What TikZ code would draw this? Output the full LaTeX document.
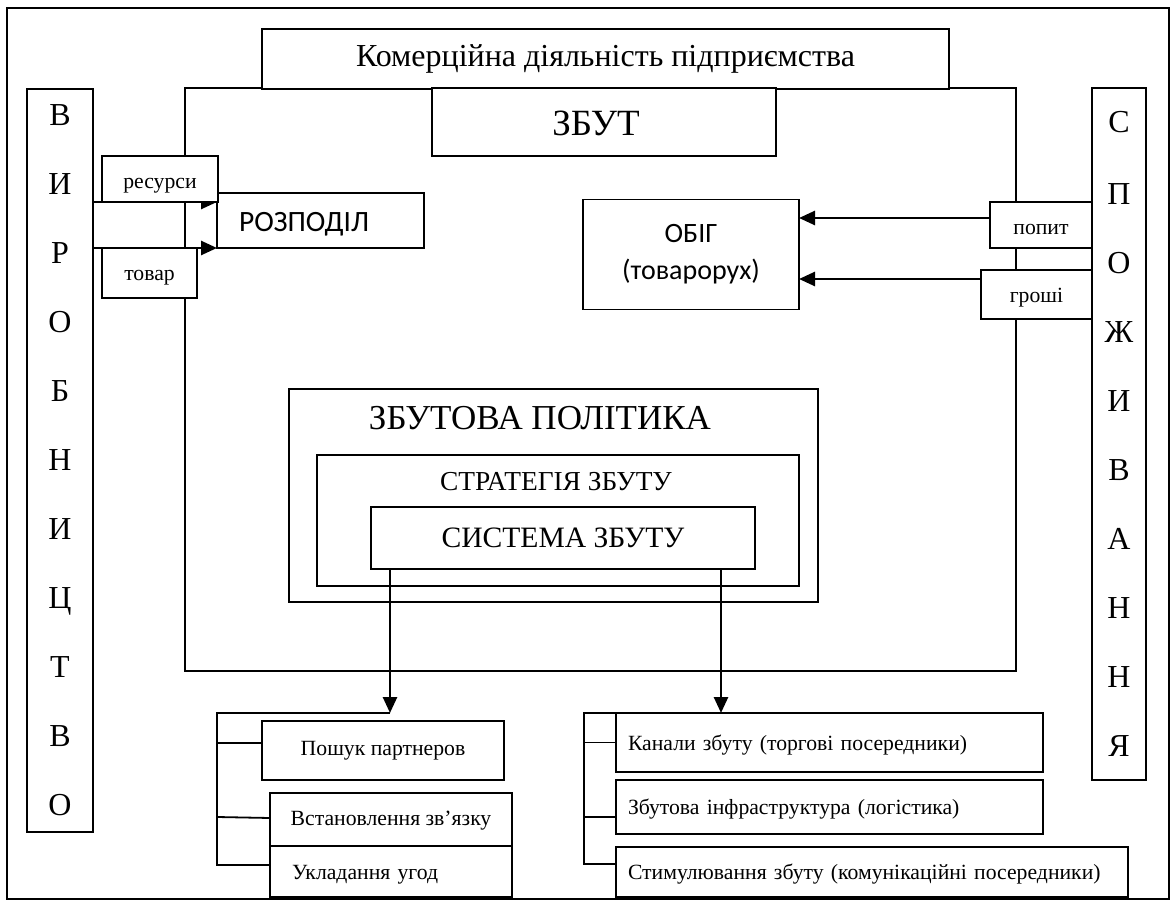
\documentclass[tikz,border=0pt]{standalone}
\usepackage{fontspec}
\setmainfont{Liberation Serif}
\newfontfamily\calib{Carlito}
\usetikzlibrary{arrows.meta}
\begin{document}
\begin{tikzpicture}[x=1pt,y=-1pt,
  box/.style={draw, line width=1.8pt, fill=white, inner sep=0pt, outer sep=0pt},
  frm/.style={draw, line width=1.3pt, inner sep=0pt, outer sep=0pt},
  arr/.style={line width=2.6pt, -{Triangle[length=16pt,width=14pt]}},
  ln/.style={line width=1.8pt},
  big/.style={font=\fontsize{32}{37}\selectfont},
  small/.style={font=\fontsize{21.7}{25}\selectfont, text height=21pt, text depth=6pt},
  vert/.style={align=center, font=\fontsize{32}{69}\selectfont},
  sans/.style={font=\calib\fontsize{28}{37}\selectfont, align=center},
]
\useasboundingbox (0,0) rectangle (1176,904);
\node[frm, minimum width=1162pt, minimum height=891pt] (frame) at (588,453.5) {};
% main container
\node[box, minimum width=831pt, minimum height=583pt] (cont) at (600.5,379.5) {};
\node[box, minimum width=687pt, minimum height=60pt, big] (title) at (605.5,59) {Комерційна діяльність підприємства};
\node[box, minimum width=344pt, minimum height=68pt] (zbut) at (604,122) {};
\node[font=\fontsize{37}{40}\selectfont] (zbuttxt) at (596,123) {ЗБУТ};
% side columns
\node[box, minimum width=66pt, minimum height=743pt, vert] (vyr) at (60,460.5) {В\\И\\Р\\О\\Б\\Н\\И\\Ц\\Т\\В\\О};
\node[box, minimum width=54pt, minimum height=692pt, vert] (spoz) at (1119,434) {\raisebox{3pt}{С}\\П\\О\\Ж\\И\\В\\А\\Н\\Н\\Я};
% inner boxes
\node[box, minimum width=207pt, minimum height=55pt, font=\calib\fontsize{29.5}{37}\selectfont, text width=207pt, align=left, text height=24pt, text depth=2pt] (rozp) at (320.5,220.5) {\hspace*{22pt}РОЗПОДІЛ};
\node[box, minimum width=216pt, minimum height=110pt, sans] (obig) at (691,254.5) {ОБІГ\\(товарорух)};
\node[box, minimum width=529pt, minimum height=213pt] (pol) at (553.5,495.5) {};
\node[box, minimum width=482pt, minimum height=131pt] (strat) at (558,520.5) {};
\node[box, minimum width=384pt, minimum height=62pt, font=\fontsize{29.6}{35}\selectfont] (syst) at (563,538) {СИСТЕМА ЗБУТУ};
\node[font=\fontsize{35}{40}\selectfont] (poltxt) at (540,418) {ЗБУТОВА ПОЛІТИКА};
\node[font=\fontsize{27.4}{31}\selectfont] (strtxt) at (556,482) {СТРАТЕГІЯ ЗБУТУ};
% consumer labels
\node[box, minimum width=102pt, minimum height=46pt, small, text height=25pt] (popyt) at (1041,225) {попит};
\node[box, minimum width=111pt, minimum height=49pt, small] (groshi) at (1036.5,294.5) {гроші};
% arrows
\coordinate (yA) at (0,202);
\coordinate (yB) at (0,248);
\coordinate (yC) at (0,218);
\coordinate (yD) at (0,279);
\draw[arr] (vyr.east |- yA) -- (rozp.west |- yA);
\draw[arr] (vyr.east |- yB) -- (rozp.west |- yB);
\draw[arr] (popyt.west |- yC) -- (obig.east |- yC);
\draw[arr] (groshi.west |- yD) -- (obig.east |- yD);
% producer labels
\node[box, minimum width=116pt, minimum height=46pt, small, text height=25pt] (res) at (160,179) {ресурси};
\node[box, minimum width=95pt, minimum height=50pt, small] (tov) at (149.5,273) {товар};
% bottom left group
\node[box, minimum width=242pt, minimum height=59pt, small, text height=15pt] (posh) at (383,750.5) {Пошук партнеров};
\node[box, minimum width=242pt, minimum height=53pt, small, text height=18pt] (vst) at (391,819.5) {Встановлення зв’язку};
\node[box, minimum width=242pt, minimum height=51pt, small, text width=198pt, align=left] (ukl) at (391,871.5) {Укладання угод};
% bottom right group
\node[box, minimum width=427pt, minimum height=59pt, small, text width=403pt, align=left] (kan) at (829.5,742.5) {Канали збуту (торгові посередники)};
\node[box, minimum width=427pt, minimum height=54pt, small, text width=403pt, align=left] (zbi) at (829.5,807) {Збутова інфраструктура (логістика)};
\node[box, minimum width=512pt, minimum height=50pt, small, text width=488pt, align=left] (stm) at (872,872) {Стимулювання збуту (комунікаційні посередники)};
% connectors from system
\coordinate (ltip) at (390,713);
\coordinate (rtip) at (721,713);
\coordinate (lbr) at (217,713);
\coordinate (rbr) at (584,713);
\draw[arr] (syst.south -| ltip) -- (ltip);
\draw[arr] (syst.south -| rtip) -- (rtip);
\draw[ln] (ltip) -- (lbr) -- (lbr |- {(0,865)}) -- (ukl.west |- {(0,865)});
\draw[ln] (lbr |- {(0,743)}) -- (posh.west |- {(0,743)});
\draw[ln] (lbr |- {(0,817)}) -- (vst.west |- {(0,818)});
\draw[ln] (kan.north west) -- (rbr) -- (rbr |- {(0,864)}) -- (stm.west |- {(0,864)});
\draw[ln] (rbr |- kan.west) -- (kan.west);
\draw[ln] (rbr |- {(0,817)}) -- (zbi.west |- {(0,817)});
\end{tikzpicture}
\end{document}
